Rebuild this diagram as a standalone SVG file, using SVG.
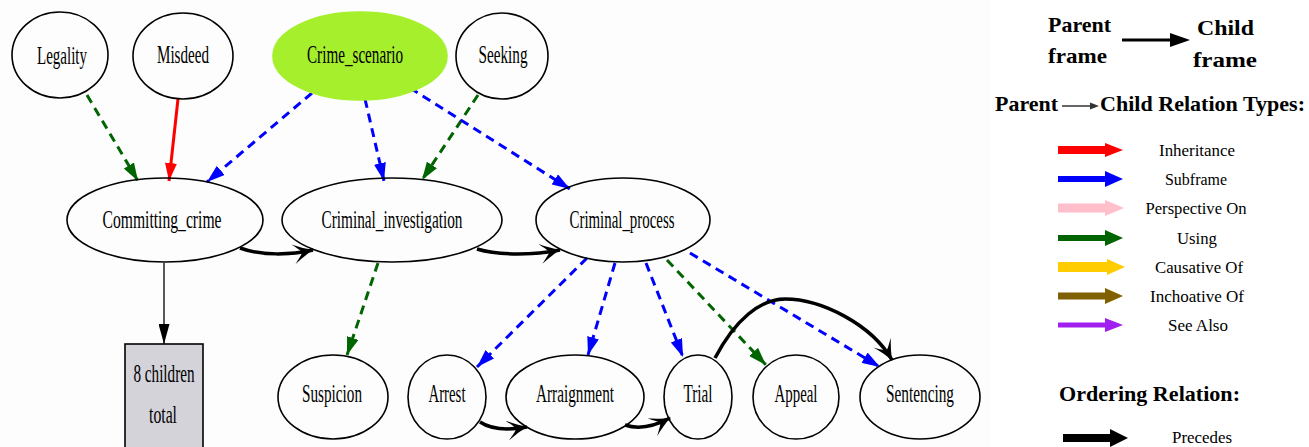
<svg xmlns="http://www.w3.org/2000/svg" width="1309" height="447" viewBox="0 0 1309 447">
<style>
.node ellipse{fill:none;stroke:#000;stroke-width:1.6}
.lbl{font-family:"Liberation Serif","Times New Roman",serif;font-size:26px;fill:#000;text-anchor:middle}
.dash{fill:none;stroke-width:3;stroke-dasharray:9,6}
.blue{stroke:#0000ff}
.green{stroke:#006400}
.prec{fill:none;stroke:#000;stroke-width:3.5}
.lg{font-family:"Liberation Serif","Times New Roman",serif;font-size:16px;fill:#000;text-anchor:middle}
.lgb{font-family:"Liberation Serif","Times New Roman",serif;font-size:22px;font-weight:bold;fill:#000}
</style>
<defs>
<marker id="mb" viewBox="0 0 18 12" refX="18" refY="6" markerWidth="18" markerHeight="12" markerUnits="userSpaceOnUse" orient="auto"><path d="M0,0 L18,6 L0,12 Z" fill="#0000ff"/></marker>
<marker id="mg" viewBox="0 0 18 12" refX="18" refY="6" markerWidth="18" markerHeight="12" markerUnits="userSpaceOnUse" orient="auto"><path d="M0,0 L18,6 L0,12 Z" fill="#006400"/></marker>
<marker id="mr" viewBox="0 0 18 12" refX="18" refY="6" markerWidth="18" markerHeight="12" markerUnits="userSpaceOnUse" orient="auto"><path d="M0,0 L18,6 L0,12 Z" fill="#ff0000"/></marker>
<marker id="mk" viewBox="0 0 20 11" refX="20" refY="5.5" markerWidth="20" markerHeight="11" markerUnits="userSpaceOnUse" orient="auto"><path d="M0,0 L20,5.5 L0,11 Z" fill="#000"/></marker>
<marker id="mv" viewBox="0 0 22 20" refX="21" refY="10" markerWidth="22" markerHeight="20" markerUnits="userSpaceOnUse" orient="auto"><path d="M22,10 C15,8 8,4 1,0 C6,5 9,8 10,10 C9,12 6,15 1,20 C8,16 15,12 22,10 Z" fill="#000"/></marker>
</defs>
<rect x="0" y="0" width="1309" height="447" fill="#fcfdfc"/>

<g id="connectors">
<path class="dash green" d="M87,95 L138,181" marker-end="url(#mg)"/>
<path d="M178,99 L169,181" fill="none" stroke="#ff0000" stroke-width="3" marker-end="url(#mr)"/>
<path class="dash blue" d="M312,93 L207,182" marker-end="url(#mb)"/>
<path class="dash blue" d="M365,99 L384,181" marker-end="url(#mb)"/>
<path class="dash green" d="M478,95 L422,180" marker-end="url(#mg)"/>
<path class="dash blue" d="M410,88 L570,189" marker-end="url(#mb)"/>
<path d="M164,263 L164,344" fill="none" stroke="#000" stroke-width="1.3" marker-end="url(#mk)"/>
<path class="dash green" d="M378,263 L347,355" marker-end="url(#mg)"/>
<path class="dash blue" d="M587,258 L477,367" marker-end="url(#mb)"/>
<path class="dash blue" d="M615,263 L588,355" marker-end="url(#mb)"/>
<path class="dash blue" d="M646,263 L683,357" marker-end="url(#mb)"/>
<path class="dash green" d="M667,260 L766,365" marker-end="url(#mg)"/>
<path class="dash blue" d="M690,253 L880,367" marker-end="url(#mb)"/>
<path class="prec" d="M240,248 C262,256 290,255 313,250" marker-end="url(#mv)"/>
<path class="prec" d="M477,249 C500,256 535,255 560,250" marker-end="url(#mv)"/>
<path class="prec" d="M480,422 C492,430 510,430 527,427" marker-end="url(#mv)"/>
<path class="prec" d="M625,425 C640,430 655,426 670,418" marker-end="url(#mv)"/>
<path class="prec" d="M715,358 C735,320 760,299 785,299 C822,299 872,325 892,360" marker-end="url(#mv)"/>
</g>

<g id="Legality" class="node"><ellipse cx="60" cy="55" rx="48" ry="43"/><text class="lbl" x="62" y="64" textLength="50" lengthAdjust="spacingAndGlyphs">Legality</text></g>
<g id="Misdeed" class="node"><ellipse cx="183" cy="56" rx="50" ry="43"/><text class="lbl" x="183" y="63" textLength="52" lengthAdjust="spacingAndGlyphs">Misdeed</text></g>
<g id="Crime_scenario" class="node"><ellipse cx="360" cy="56" rx="87" ry="44" style="fill:#a6ef2c;stroke:#a6ef2c"/><text class="lbl" x="355" y="63" textLength="96" lengthAdjust="spacingAndGlyphs">Crime_scenario</text></g>
<g id="Seeking" class="node"><ellipse cx="502" cy="56" rx="46" ry="43"/><text class="lbl" x="503" y="63" textLength="49" lengthAdjust="spacingAndGlyphs">Seeking</text></g>
<g id="Committing_crime" class="node"><ellipse cx="165" cy="220" rx="98" ry="42"/><text class="lbl" x="162" y="228" textLength="119" lengthAdjust="spacingAndGlyphs">Committing_crime</text></g>
<g id="Criminal_investigation" class="node"><ellipse cx="392" cy="220" rx="110" ry="42"/><text class="lbl" x="392" y="228" textLength="141" lengthAdjust="spacingAndGlyphs">Criminal_investigation</text></g>
<g id="Criminal_process" class="node"><ellipse cx="623" cy="220" rx="87" ry="42"/><text class="lbl" x="622" y="228" textLength="105" lengthAdjust="spacingAndGlyphs">Criminal_process</text></g>
<g id="children_total" class="node"><rect x="125" y="344" width="78" height="120" fill="#d4d3da" stroke="#000" stroke-width="1.6"/><text class="lbl" x="164" y="382" textLength="61" lengthAdjust="spacingAndGlyphs">8 children</text><text class="lbl" x="163" y="423" textLength="28" lengthAdjust="spacingAndGlyphs">total</text></g>
<g id="Suspicion" class="node"><ellipse cx="333" cy="397" rx="55" ry="42"/><text class="lbl" x="332" y="402" textLength="60" lengthAdjust="spacingAndGlyphs">Suspicion</text></g>
<g id="Arrest" class="node"><ellipse cx="447" cy="397" rx="39" ry="42"/><text class="lbl" x="447" y="402" textLength="37" lengthAdjust="spacingAndGlyphs">Arrest</text></g>
<g id="Arraignment" class="node"><ellipse cx="575" cy="397" rx="69" ry="42"/><text class="lbl" x="575" y="402" textLength="78" lengthAdjust="spacingAndGlyphs">Arraignment</text></g>
<g id="Trial" class="node"><ellipse cx="698" cy="397" rx="34" ry="42"/><text class="lbl" x="698" y="402" textLength="29" lengthAdjust="spacingAndGlyphs">Trial</text></g>
<g id="Appeal" class="node"><ellipse cx="796" cy="397" rx="43" ry="42"/><text class="lbl" x="796" y="402" textLength="43" lengthAdjust="spacingAndGlyphs">Appeal</text></g>
<g id="Sentencing" class="node"><ellipse cx="920" cy="397" rx="60" ry="42"/><text class="lbl" x="920" y="402" textLength="68" lengthAdjust="spacingAndGlyphs">Sentencing</text></g>

<g id="legend">
<rect x="990" y="0" width="319" height="447" fill="#ffffff"/>
<text class="lgb" x="1048" y="32" textLength="63" lengthAdjust="spacingAndGlyphs">Parent</text>
<text class="lgb" x="1048" y="63" textLength="59" lengthAdjust="spacingAndGlyphs">frame</text>
<text class="lgb" x="1197" y="35" textLength="57" lengthAdjust="spacingAndGlyphs">Child</text>
<text class="lgb" x="1193" y="67" textLength="64" lengthAdjust="spacingAndGlyphs">frame</text>
<line x1="1122" y1="40" x2="1172" y2="40" stroke="#000" stroke-width="3"/>
<polygon points="1170,33 1190,40 1170,47" fill="#000"/>
<text class="lgb" x="995" y="111" textLength="63" lengthAdjust="spacingAndGlyphs">Parent</text>
<line x1="1062" y1="106" x2="1092" y2="106" stroke="#333" stroke-width="1.5"/>
<polygon points="1090,102.5 1099,106 1090,109.5" fill="#333"/>
<text class="lgb" x="1100" y="111" textLength="205" lengthAdjust="spacingAndGlyphs">Child Relation Types:</text>

<rect x="1058" y="146" width="49" height="8" fill="#ff0000"/><polygon points="1105,143 1123,150 1105,157" fill="#ff0000"/>
<text class="lg" x="1197" y="156" textLength="76" lengthAdjust="spacingAndGlyphs">Inheritance</text>
<rect x="1058" y="176" width="49" height="6" fill="#0000ff"/><polygon points="1105,171 1123,179 1105,187" fill="#0000ff"/>
<text class="lg" x="1196" y="185" textLength="62" lengthAdjust="spacingAndGlyphs">Subframe</text>
<rect x="1058" y="203.5" width="49" height="9" fill="#ffc0cb"/><polygon points="1105,200 1124,208 1105,216" fill="#ffc0cb"/>
<text class="lg" x="1196" y="214" textLength="101" lengthAdjust="spacingAndGlyphs">Perspective On</text>
<rect x="1058" y="235" width="49" height="6" fill="#006400"/><polygon points="1105,230 1123,238 1105,246" fill="#006400"/>
<text class="lg" x="1197" y="244" textLength="40" lengthAdjust="spacingAndGlyphs">Using</text>
<rect x="1058" y="262" width="51" height="10" fill="#ffcc00"/><polygon points="1107,259 1125,267 1107,275" fill="#ffcc00"/>
<text class="lg" x="1199" y="273" textLength="88" lengthAdjust="spacingAndGlyphs">Causative Of</text>
<rect x="1058" y="292.5" width="49" height="7" fill="#806000"/><polygon points="1105,288 1123,296 1105,304" fill="#806000"/>
<text class="lg" x="1197" y="302" textLength="94" lengthAdjust="spacingAndGlyphs">Inchoative Of</text>
<rect x="1058" y="322.5" width="49" height="5" fill="#a020f0"/><polygon points="1105,318 1123,325 1105,332" fill="#a020f0"/>
<text class="lg" x="1198" y="331" textLength="60" lengthAdjust="spacingAndGlyphs">See Also</text>

<text class="lgb" x="1059" y="401" textLength="181" lengthAdjust="spacingAndGlyphs">Ordering Relation:</text>
<rect x="1063" y="434" width="50" height="8" fill="#000"/><polygon points="1110,429 1128,438 1110,447" fill="#000"/>
<text class="lg" x="1202" y="443" textLength="60" lengthAdjust="spacingAndGlyphs">Precedes</text>
</g>
</svg>
